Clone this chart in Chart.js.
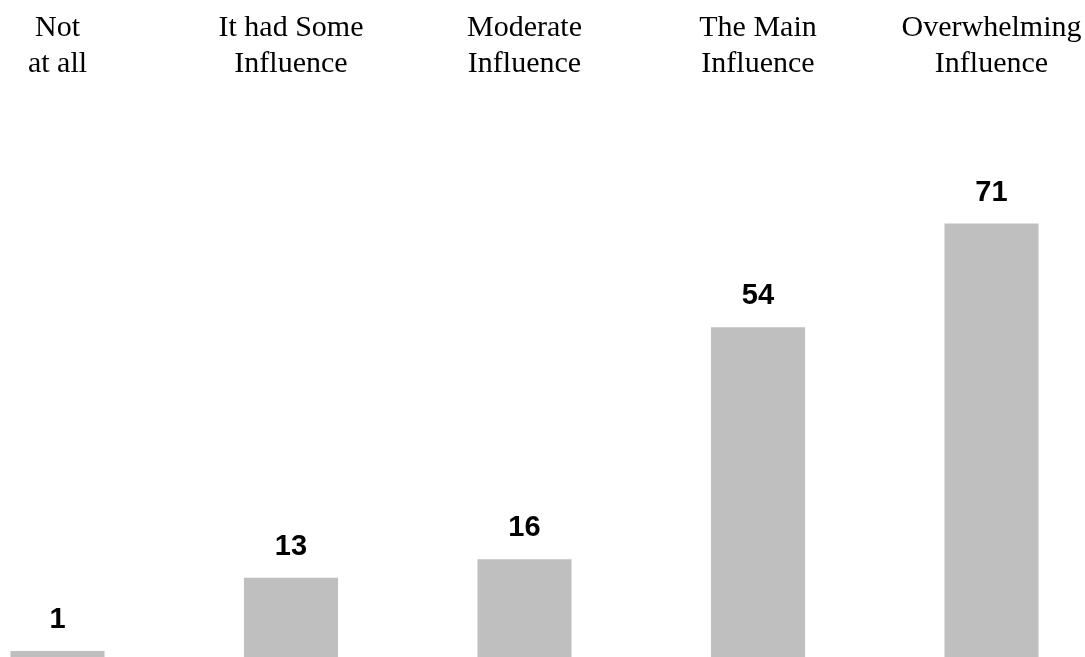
<!DOCTYPE html>
<html>
<head>
<meta charset="utf-8">
<script src="https://cdn.jsdelivr.net/npm/chart.js@4/dist/chart.umd.min.js"></script>
<style>
  html, body { margin: 0; padding: 0; background: #fff; }
  #wrap { width: 1085px; height: 657px; position: relative; }
</style>
</head>
<body>
<div id="wrap"><canvas id="chart"></canvas></div>
<script>
// chart data
const categories = [
  ['Not', 'at all'],
  ['It had Some', 'Influence'],
  ['Moderate', 'Influence'],
  ['The Main', 'Influence'],
  ['Overwhelming', 'Influence']
];
const values = [1, 13, 16, 54, 71];

const labelSize = 30;
const labelLine = 1.21;
const labelGap = 25;

// value labels above each bar
const valueLabels = {
  id: 'valueLabels',
  afterDatasetsDraw(chart) {
    const ctx = chart.ctx;
    const meta = chart.getDatasetMeta(0);
    ctx.save();
    ctx.fillStyle = '#000';
    ctx.font = 'bold 29px "Liberation Sans", Arial, sans-serif';
    ctx.textAlign = 'center';
    ctx.textBaseline = 'alphabetic';
    meta.data.forEach((bar, i) => {
      ctx.fillText(String(values[i]), bar.x, bar.y - 23);
    });
    ctx.restore();
  }
};

new Chart(document.getElementById('chart'), {
  type: 'bar',
  data: {
    labels: categories,
    datasets: [{
      data: values,
      backgroundColor: '#bfbfbf',
      borderWidth: 0,
      categoryPercentage: 1,
      barPercentage: 0.403,
      clip: false
    }]
  },
  options: {
    responsive: true,
    maintainAspectRatio: false,
    animation: false,
    layout: {
      padding: { left: 57.5, right: 93.5, top: 10, bottom: 0 }
    },
    plugins: {
      legend: { display: false },
      tooltip: { enabled: false }
    },
    scales: {
      x: {
        position: 'top',
        offset: false,
        grid: { display: false, drawTicks: false },
        border: { display: false },
        ticks: {
          color: '#000',
          padding: labelGap,
          maxRotation: 0,
          autoSkip: false,
          font: { family: '"Liberation Serif", "Times New Roman", serif', size: labelSize, lineHeight: labelLine }
        },
        afterFit(scale) {
          // keep the plot edges where the layout padding puts them
          scale.paddingLeft = 0;
          scale.paddingRight = 0;
          scale.height = 2 * labelSize * labelLine + labelGap;
        }
      },
      y: {
        display: false,
        min: 0,
        max: 90
      }
    }
  },
  plugins: [valueLabels]
});
</script>
</body>
</html>
